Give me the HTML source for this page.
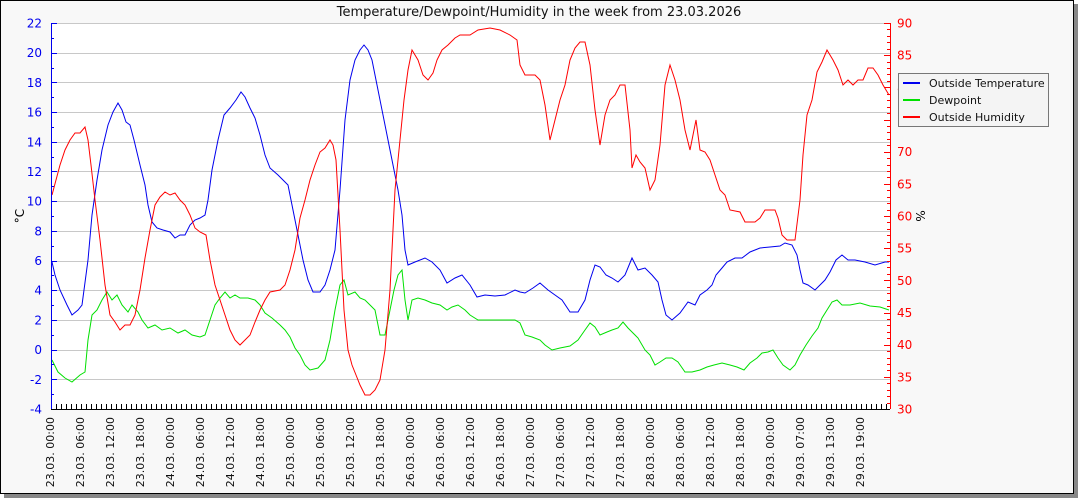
<!DOCTYPE html>
<html><head><meta charset="utf-8"><style>
body{margin:0;background:#fff;}
svg{display:block;font-family:"DejaVu Sans","Liberation Sans",sans-serif;}
</style></head><body>
<svg id="s" width="1080" height="500" xmlns="http://www.w3.org/2000/svg">
<rect x="4" y="4" width="1074" height="494" fill="#888"/>
<rect x="0.5" y="0.5" width="1073" height="493" fill="#f8f8f8" stroke="#000"/>
<rect x="51" y="23" width="839" height="386" fill="#fff"/>
<g id="grid" stroke="#c8c8c8" stroke-width="1"></g>
<text x="539" y="16" font-size="13" text-anchor="middle" fill="#111">Temperature/Dewpoint/Humidity in the week from 23.03.2026</text>
<polyline fill="none" stroke="#00e000" stroke-width="1" points="52,360 58,372 65,378 72,382 80,375 85,372 88,340 92,315 97,310 102,300 107,292 112,300 117,295 122,305 128,312 132,305 138,312 142,320 148,328 155,325 162,330 170,328 178,333 185,330 192,335 200,337 205,335 210,320 215,305 220,298 225,292 230,298 235,295 240,298 248,298 255,300 260,305 265,313 272,318 280,325 285,330 290,337 295,348 300,355 305,365 310,370 318,368 325,360 330,340 335,310 340,285 344,280 348,295 355,292 360,298 365,300 370,305 375,310 380,335 385,335 390,310 394,290 398,275 402,270 405,300 408,320 412,300 418,298 425,300 432,303 440,305 447,310 452,307 458,305 465,310 470,315 478,320 485,320 495,320 505,320 515,320 520,323 525,335 532,337 540,340 545,345 552,350 560,348 570,346 578,340 585,330 590,323 595,327 600,335 607,332 612,330 618,328 623,322 628,328 632,332 638,338 645,350 650,355 655,365 660,362 666,358 672,358 678,362 685,372 692,372 700,370 707,367 714,365 722,363 730,365 737,367 744,370 750,363 757,358 762,353 768,352 773,350 778,358 783,365 790,370 795,365 800,355 806,345 812,336 818,328 822,318 827,310 832,302 837,300 842,305 850,305 860,303 870,306 880,307 889,310"/>
<polyline fill="none" stroke="#0000ee" stroke-width="1" points="52,262 55,275 60,290 67,305 72,315 78,310 82,305 88,260 92,215 97,180 102,150 108,125 113,112 118,103 122,110 126,122 130,125 134,140 140,165 145,185 148,205 152,222 157,228 163,230 170,232 175,238 180,235 185,235 190,225 195,220 200,218 205,215 208,200 212,170 218,140 224,115 230,108 236,100 241,92 245,97 250,108 255,118 260,135 265,155 270,168 278,175 283,180 288,185 293,210 298,235 303,260 308,280 313,292 320,292 325,285 330,270 335,250 340,190 345,120 350,80 355,60 360,50 364,45 368,50 372,60 377,85 383,115 388,140 393,165 398,190 402,215 405,250 408,265 415,262 425,258 432,262 440,270 447,283 455,278 462,275 470,285 477,297 485,295 495,296 505,295 515,290 520,292 525,293 533,288 540,283 548,290 555,295 562,300 570,312 578,312 585,300 590,280 595,265 600,267 606,275 612,278 618,282 625,275 632,258 638,270 645,268 652,275 658,282 662,300 666,315 672,320 680,313 688,302 695,305 700,295 707,290 712,285 716,275 722,268 727,262 735,258 742,258 750,252 760,248 770,247 780,246 785,243 792,245 797,255 800,270 803,283 808,285 815,290 820,285 825,280 830,272 836,260 842,255 848,260 855,260 865,262 875,265 885,262 889,262"/>
<polyline fill="none" stroke="#ff0000" stroke-width="1" points="52,195 56,180 60,165 65,150 70,140 75,133 80,133 85,127 88,140 91,165 95,200 100,240 105,285 110,315 115,322 120,330 125,325 130,325 135,315 140,290 145,258 150,230 155,205 160,197 165,192 170,195 175,193 180,200 185,205 190,215 195,228 200,232 206,235 210,260 215,285 220,300 225,315 230,330 235,340 240,345 245,340 250,335 255,322 260,310 265,300 270,292 280,290 285,285 290,270 295,250 300,218 305,200 310,180 315,165 320,152 325,148 330,140 333,145 336,160 340,230 344,310 348,350 352,365 356,375 360,385 365,395 370,395 375,390 380,380 385,350 390,290 395,190 400,140 404,100 408,70 412,50 418,60 423,75 428,80 433,73 437,60 442,50 448,45 455,38 460,35 470,35 478,30 490,28 500,30 510,35 517,40 520,65 525,75 535,75 540,80 545,105 550,140 555,120 560,100 565,85 570,60 575,48 580,42 585,42 590,65 595,110 600,145 605,115 610,100 615,95 620,85 625,85 630,130 632,168 636,155 640,162 645,168 650,190 655,180 660,145 665,85 670,65 675,80 680,100 685,130 690,150 693,135 696,120 700,150 705,152 710,160 715,175 720,190 725,195 730,210 740,212 745,222 755,222 760,218 765,210 775,210 778,218 782,235 787,240 795,240 800,200 803,155 807,115 812,100 817,72 822,62 827,50 833,60 838,70 843,85 848,80 853,85 858,80 863,80 868,68 873,68 878,75 883,85 889,95"/>
<g id="ax"></g>
<line x1="51.5" y1="23" x2="51.5" y2="409" stroke="#0000ee"/>
<line x1="890.5" y1="23" x2="890.5" y2="409" stroke="#ff0000"/>
<line x1="51" y1="409.5" x2="890" y2="409.5" stroke="#000"/>
<text transform="translate(24,216) rotate(-90)" font-size="12" text-anchor="middle" fill="#000">°C</text>
<text transform="translate(916,216) rotate(90)" font-size="12" text-anchor="middle" fill="#000">%</text>
<rect x="898.5" y="73.5" width="150" height="53" fill="#f4f4f4" stroke="#777"/>
<line x1="903" y1="83" x2="920" y2="83" stroke="#0000ee" stroke-width="2"/>
<line x1="903" y1="100" x2="920" y2="100" stroke="#00e000" stroke-width="2"/>
<line x1="903" y1="117" x2="920" y2="117" stroke="#ff0000" stroke-width="2"/>
<text x="929" y="87" font-size="11" fill="#111">Outside Temperature</text>
<text x="929" y="104" font-size="11" fill="#111">Dewpoint</text>
<text x="929" y="121" font-size="11" fill="#111">Outside Humidity</text>
</svg>
<script>
(function(){
var NS="http://www.w3.org/2000/svg",ax=document.getElementById("ax"),gr=document.getElementById("grid");
function el(p,t,a,txt){var e=document.createElementNS(NS,t);for(var k in a)e.setAttribute(k,a[k]);if(txt!=null)e.textContent=txt;p.appendChild(e);return e;}
var T0=23,B0=409,H=B0-T0;
for(var i=0;i<=13;i++){var y=T0+i*H/13;
 if(i<13)el(gr,"line",{x1:52,x2:890,y1:Math.round(y)+.5,y2:Math.round(y)+.5});
 el(ax,"line",{x1:51,x2:57,y1:Math.round(y)+.5,y2:Math.round(y)+.5,stroke:"#0000ee"});
 el(ax,"text",{x:42,y:y+4.5,"font-size":12,"text-anchor":"end",fill:"#0000ee"},String(22-2*i));
 if(i<13){var ym=y+H/26;el(ax,"line",{x1:51,x2:54,y1:Math.round(ym)+.5,y2:Math.round(ym)+.5,stroke:"#0000ee"});}
}
for(var j=0;j<=60;j++){var y=T0+j*H/60;var big=j%5==0;
 el(ax,"line",{x1:big?884:887,x2:890,y1:Math.round(y)+.5,y2:Math.round(y)+.5,stroke:"#ff0000"});
 if(big)el(ax,"text",{x:897,y:y+4.5,"font-size":12,fill:"#ff0000"},String(90-j));
}
var labs=[];var days=["23","24","25","26","27","28"];
days.forEach(function(d){["00:00","06:00","12:00","18:00"].forEach(function(t){labs.push(d+".03. "+t);});});
["00:00","07:00","13:00","19:00"].forEach(function(t){labs.push("29.03. "+t);});
for(var k=0;k<labs.length;k++){var x=51+k*30;
 el(ax,"text",{transform:"translate("+(x+3)+",417) rotate(-90)","font-size":11,"text-anchor":"end",fill:"#111"},labs[k]);}
for(var m=0;m<=167;m++){var x=51+m*5;if(x>890)break;el(ax,"line",{x1:x+.5,x2:x+.5,y1:404,y2:409,stroke:"#000"});}
})();
</script>
</body></html>
